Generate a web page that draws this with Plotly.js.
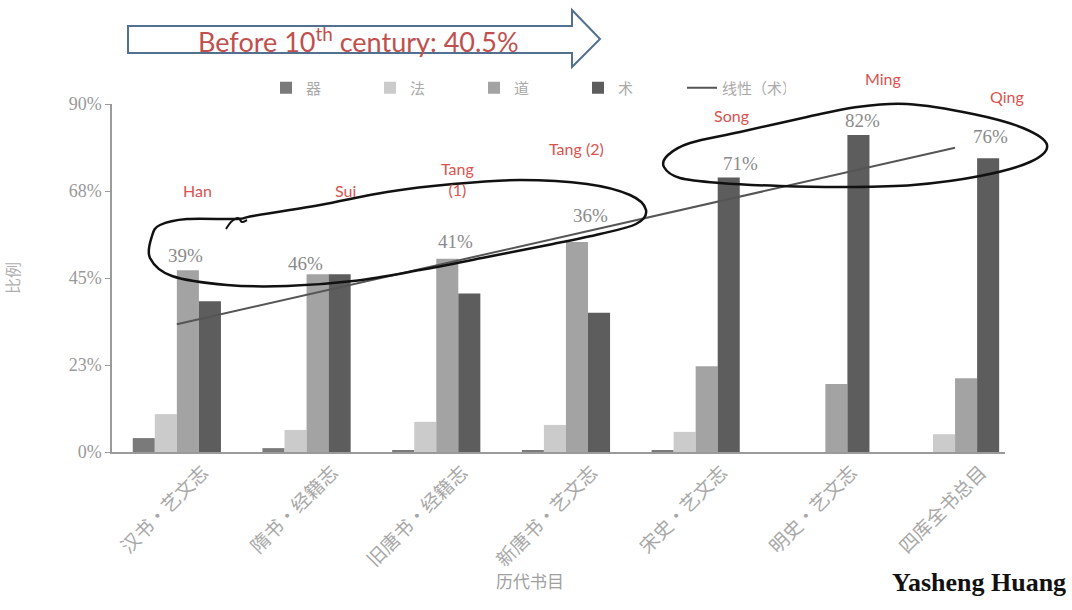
<!DOCTYPE html>
<html>
<head>
<meta charset="utf-8">
<script src="https://cdn.plot.ly/plotly-3.0.1.min.js"></script>
<style>html,body{margin:0;padding:0;background:#fff;}</style>
</head>
<body>
<div id="chart" style="width:1072px;height:610px;"></div>
<script>
// ---- data ----
const categories = ['汉书·艺文志','隋书·经籍志','旧唐书·经籍志','新唐书·艺文志','宋史·艺文志','明史·艺文志','四库全书总目'];
const seriesNames = ['器','法','道','术'];
const qi  = [3.6, 1.0, 0.5, 0.5, 0.5, 0, 0];
const fa  = [9.8, 5.7, 7.8, 7.0, 5.2, 0, 4.6];
const dao = [47, 46, 50, 54.3, 22.2, 17.6, 19.1];
const shu = [39, 46, 41, 36, 71, 82, 76];
const dynasties = ['Han','Sui','Tang<br>(1)','Tang (2)','Song','Ming','Qing'];
const yTickVals = [0, 22.5, 45, 67.5, 90];
const yTickText = ['0%','23%','45%','68%','90%'];
const xTitle = '历代书目';
const yTitle = '比例';
const trendName = '线性（术）';
const arrowText = 'Before 10<sup>th</sup> century: 40.5%';
const author = 'Yasheng Huang';

// ---- geometry helpers (layout only) ----
const W = 1072, H = 610, ML = 112, MR = 67, MT = 104, MB = 158;
const PW = W - ML - MR, PH = H - MT - MB;
const px = x => (x - ML) / PW;
const py = y => (H - MB - y) / PH;

function smoothPath(pts, closed) {
  const p = pts.map(q => [px(q[0]), py(q[1])]);
  const n = p.length;
  const get = i => closed ? p[(i + n) % n] : p[Math.max(0, Math.min(n - 1, i))];
  let d = 'M' + p[0][0] + ',' + p[0][1];
  const segs = closed ? n : n - 1;
  for (let i = 0; i < segs; i++) {
    const p0 = get(i - 1), p1 = get(i), p2 = get(i + 1), p3 = get(i + 2);
    const c1 = [p1[0] + (p2[0] - p0[0]) / 6, p1[1] + (p2[1] - p0[1]) / 6];
    const c2 = [p2[0] - (p3[0] - p1[0]) / 6, p2[1] - (p3[1] - p1[1]) / 6];
    d += ' C' + c1[0] + ',' + c1[1] + ' ' + c2[0] + ',' + c2[1] + ' ' + p2[0] + ',' + p2[1];
  }
  if (closed) d += ' Z';
  return d;
}

// ---- linear trend of 术 (least squares) ----
const n = shu.length;
const xs = shu.map((_, i) => i + 1);
const mx = xs.reduce((a, b) => a + b, 0) / n;
const my = shu.reduce((a, b) => a + b, 0) / n;
let sxy = 0, sxx = 0;
xs.forEach((x, i) => { sxy += (x - mx) * (shu[i] - my); sxx += (x - mx) * (x - mx); });
const slope = sxy / sxx, icpt = my - slope * mx;
const trend = xs.map(x => icpt + slope * x);

const colors = ['#7a7a7a', '#cbcbcb', '#a3a3a3', '#5d5d5d'];
const seriesVals = [qi, fa, dao, shu];

const traces = seriesVals.map((v, k) => ({
  type: 'bar', x: categories, y: v, name: seriesNames[k],
  marker: {color: colors[k]}, hoverinfo: 'x+y'
}));
traces.push({
  type: 'scatter', mode: 'lines', x: categories, y: trend, name: trendName,
  line: {color: '#555555', width: 2}
});

// ---- annotations ----
const annotations = [];
const pctPos = [[185,255],[305,263],[455,241],[590,215],[740,163],[862,121],[990,136]];
shu.forEach((v, i) => {
  annotations.push({
    xref: 'paper', yref: 'paper', x: px(pctPos[i][0]), y: py(pctPos[i][1]),
    text: v + '%', showarrow: false, xanchor: 'center', yanchor: 'middle',
    font: {family: 'Liberation Serif, serif', size: 19, color: '#8a8a8a'}
  });
});
const dynPos = [[197,190],[345,190],[457,179],[576,148],[731,115],[883,79],[1007,97]];
dynasties.forEach((t, i) => {
  annotations.push({
    xref: 'paper', yref: 'paper', x: px(dynPos[i][0]), y: py(dynPos[i][1]),
    text: t, showarrow: false, xanchor: 'center', yanchor: 'middle',
    font: {family: 'Lato, sans-serif', size: 16, color: '#d9534f'}
  });
});
annotations.push({
  xref: 'paper', yref: 'paper', x: px(358), y: py(40),
  text: arrowText, showarrow: false, xanchor: 'center', yanchor: 'middle',
  font: {family: 'Lato, sans-serif', size: 27, color: '#c0504d'}
});
annotations.push({
  xref: 'paper', yref: 'paper', x: px(1068), y: py(582),
  text: '<b>' + author + '</b>', showarrow: false, xanchor: 'right', yanchor: 'middle',
  font: {family: 'Liberation Serif, serif', size: 26, color: '#111111'}
});
annotations.push({
  xref: 'paper', yref: 'paper', x: px(530), y: py(580),
  text: xTitle, showarrow: false, xanchor: 'center', yanchor: 'middle',
  font: {family: 'Noto Sans CJK SC, sans-serif', size: 17, color: '#a0a0a0'}
});

// ---- shapes ----
const arrowPts = [[128,26],[572,26],[572,10],[600,39],[572,67],[572,53],[128,53]];
const arrowPath = 'M' + arrowPts.map(q => px(q[0]) + ',' + py(q[1])).join(' L') + ' Z';
const loop1 = [[187,219],[237,219],[253,216],[320,205],[387,192],[453,184],[520,180],[587,184],[630,195],[646,210],[636,224],[600,234],[553,244],[487,257],[420,270],[353,281],[287,286],[227,285],[172,276],[150,258],[152,236],[160,225]];
const loop2 = [[690,143],[740,132],[807,117],[857,107],[907,104],[973,114],[1023,128],[1047,145],[1030,162],[980,176],[913,185],[847,187],[780,186],[720,183],[680,178],[664,167],[668,155]];
const squiggle = [[226,229],[231,222],[238,218],[242,222],[247,220]];

const shapes = [
  {type: 'path', xref: 'paper', yref: 'paper', path: arrowPath,
   line: {color: '#52708f', width: 2}, fillcolor: 'rgba(255,255,255,0)'},
  {type: 'path', xref: 'paper', yref: 'paper', path: smoothPath(loop1, true),
   line: {color: '#111111', width: 2.5}},
  {type: 'path', xref: 'paper', yref: 'paper', path: smoothPath(loop2, true),
   line: {color: '#111111', width: 2.5}},
  {type: 'path', xref: 'paper', yref: 'paper', path: smoothPath(squiggle, false),
   line: {color: '#111111', width: 2}}
];

const layout = {
  width: W, height: H,
  margin: {l: ML, r: MR, t: MT, b: MB, pad: 0},
  paper_bgcolor: '#ffffff', plot_bgcolor: '#ffffff',
  barmode: 'group', bargap: 0.32, bargroupgap: 0,
  showlegend: true,
  legend: {
    orientation: 'h', x: px(266), y: py(88), xanchor: 'left', yanchor: 'middle',
    entrywidth: 59, entrywidthmode: 'pixels',
    font: {family: 'Noto Sans CJK SC, sans-serif', size: 15, color: '#aaaaaa'},
    bgcolor: 'rgba(0,0,0,0)'
  },
  xaxis: {
    type: 'category', range: [-0.5, 6.385], showgrid: false, zeroline: false,
    showline: true, linecolor: '#9a9a9a', linewidth: 1.5,
    ticks: '', tickangle: -45, ticklabelshift: 26,
    tickfont: {family: 'Noto Sans CJK SC, sans-serif', size: 19, color: '#a8a8a8'},
    automargin: false
  },
  yaxis: {
    range: [0, 90], showgrid: false, zeroline: false,
    showline: true, linecolor: '#9a9a9a', linewidth: 1.5,
    ticks: 'outside', ticklen: 5, tickcolor: '#9a9a9a',
    tickvals: yTickVals, ticktext: yTickText,
    tickfont: {family: 'Liberation Serif, serif', size: 18, color: '#999999'},
    title: {text: yTitle, standoff: 46,
            font: {family: 'Noto Sans CJK SC, sans-serif', size: 16, color: '#b0b0b0'}},
    automargin: false
  },
  annotations: annotations,
  shapes: shapes
};

Plotly.newPlot('chart', traces, layout, {displayModeBar: false, responsive: false});
</script>
</body>
</html>
